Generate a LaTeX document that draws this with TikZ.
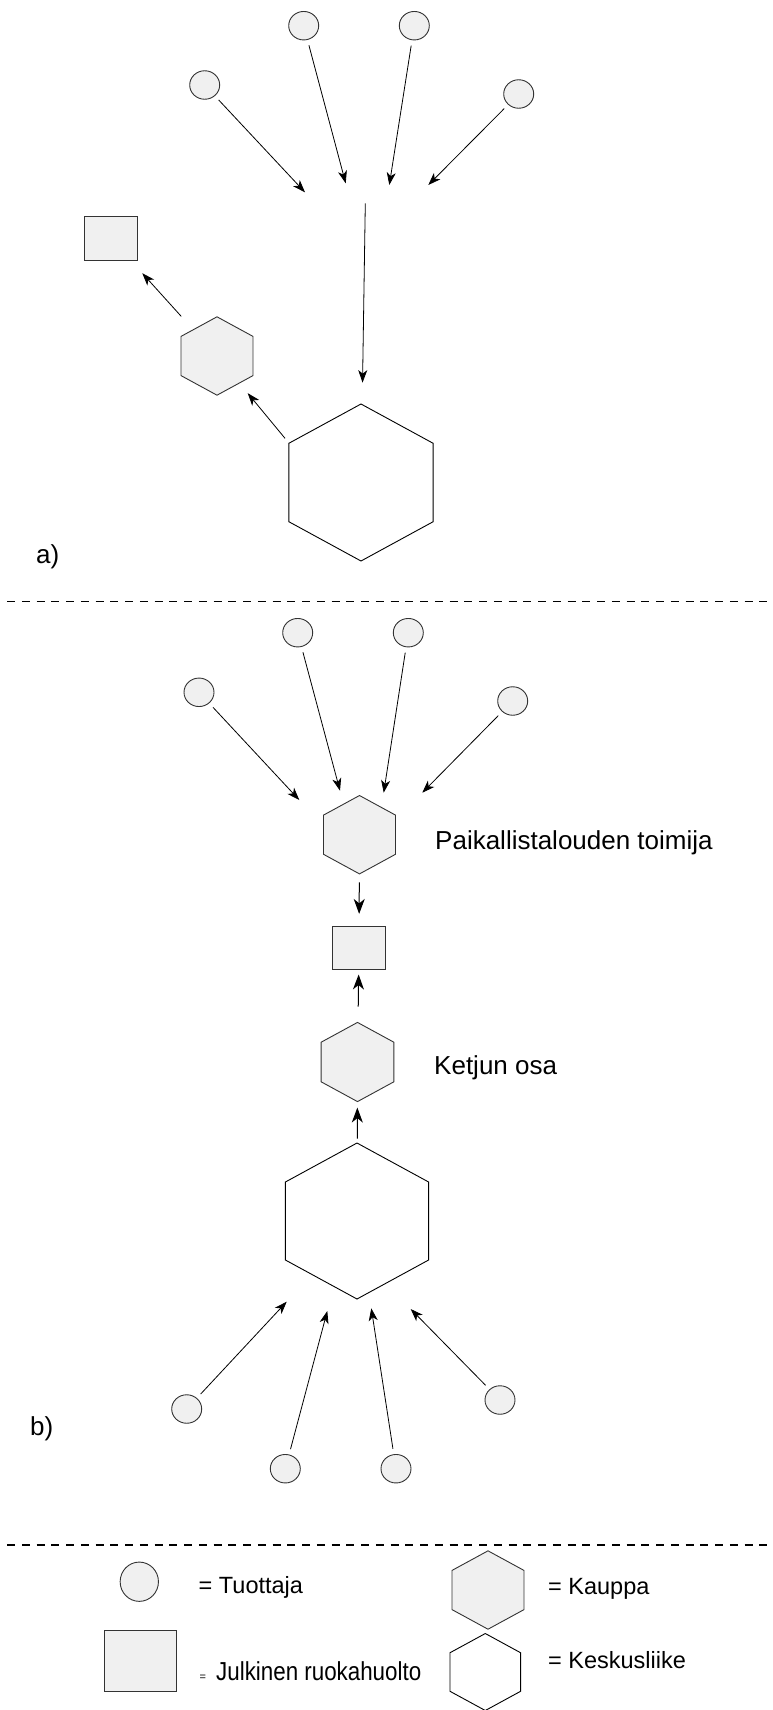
\documentclass[tikz,border=0pt]{standalone}
\usepackage{fontspec}
\setmainfont{Liberation Sans}
\usetikzlibrary{shapes.geometric, arrows.meta, calc}
\definecolor{shapefill}{HTML}{F0F0F0}
\definecolor{shapeline}{HTML}{333333}

\begin{document}
\begin{tikzpicture}[x=1pt, y=-1pt,
  producer/.style={ellipse, draw=shapeline, fill=shapefill, line width=0.9pt,
    inner sep=0pt, minimum width=30pt, minimum height=28.5pt},
  hexbase/.style={regular polygon, regular polygon sides=6, shape border rotate=90,
    inner sep=0pt, xscale=1.06, transform shape, line width=0.9pt},
  shop/.style={hexbase, draw=shapeline, fill=shapefill, minimum size=#1},
  shop/.default=78.4pt,
  centre/.style={hexbase, draw=black, fill=white, minimum size=#1},
  centre/.default=157pt,
  kitchen/.style={rectangle, draw=shapeline, fill=shapefill, line width=0.9pt,
    inner sep=0pt, minimum width=53.4pt, minimum height=43.3pt},
  flow/.style={-{Stealth[length=12.5pt,width=9pt,inset=3.5pt]}, line width=0.8pt},
  flowbig/.style={-{Stealth[length=15pt,width=11pt,inset=4.5pt]}, line width=1pt},
  nametext/.style={anchor=base west, inner sep=0pt, font=\fontsize{26}{31}\selectfont},
  keytext/.style={anchor=base west, inner sep=0pt, font=\fontsize{23.5}{28}\selectfont},
  divider/.style={dash pattern=on 8pt off 6.75pt, line width=1.5pt},
]
\useasboundingbox (0,0) rectangle (773,1710);

% ---------- a) ----------
\node[producer] (a1) at (204.7,85) {};
\node[producer] (a2) at (303.7,25.7) {};
\node[producer] (a3) at (414.3,25.7) {};
\node[producer] (a4) at (518.7,94) {};
\coordinate (hubA1) at (305,192.3);
\coordinate (hubA2) at (345.7,183.3);
\coordinate (hubA3) at (389.3,185);
\coordinate (hubA4) at (428.3,185);
\coordinate (hubA) at (365.3,203.3);

\node[centre] (bigA) at (361,482.5) {};
\node[shop] (kA) at (217,356) {};
\node[kitchen] (sqA) at (111,238.5) {};

\foreach \i in {1,...,4} \draw[flow, shorten <=5.5pt] (a\i) -- (hubA\i);
\draw[flow, shorten >=21.5pt] (hubA) -- (bigA);
\draw[flow, shorten >=12.7pt] ($(bigA.center)+(-76,-44.2)$) -- (kA);
\draw[flow, shorten <=17.5pt, shorten >=17pt] (kA) -- (sqA);

\node[nametext] (capA) at (36,563) {a)};

% ---------- divider ----------
\coordinate (cutL1) at (7,601.5);
\coordinate (cutR1) at (768,601.5);
\draw[divider] (cutL1) -- (cutR1);

% ---------- b) ----------
\node[producer] (b1) at (199,692.3) {};
\node[producer] (b2) at (297.7,632.7) {};
\node[producer] (b3) at (408.3,632.7) {};
\node[producer] (b4) at (512.7,701) {};
\coordinate (hubB1) at (299.3,800);
\coordinate (hubB2) at (340,790.7);
\coordinate (hubB3) at (383.7,792.7);
\coordinate (hubB4) at (422.3,792.7);

\node[shop] (hexP) at (359.5,834.7) {};
\node[nametext] (txtP) at (435,849) {Paikallistalouden toimija};
\node[kitchen] (sqB) at (359,947.7) {};
\node[shop=79.2pt] (kB) at (357.5,1062) {};
\node[nametext] (txtK) at (434,1074.6) {Ketjun osa};
\node[centre=156pt] (bigB) at (357,1221) {};

\foreach \i in {1,...,4} \draw[flow, shorten <=5.5pt] (b\i) -- (hubB\i);
\draw[flowbig, shorten <=8pt, shorten >=11.7pt] (hexP) -- (sqB);
\draw[flowbig, shorten <=15.6pt, shorten >=4.7pt] (kB) -- (sqB);
\draw[flowbig, shorten <=4pt, shorten >=5.5pt] (bigB) -- (kB);

\node[producer] (c1) at (186.7,1409) {};
\node[producer] (c2) at (285.3,1468.7) {};
\node[producer] (c3) at (396,1468.7) {};
\node[producer] (c4) at (500,1400) {};
\coordinate (hubC1) at (286.7,1301.7);
\coordinate (hubC2) at (327.3,1311);
\coordinate (hubC3) at (371.3,1308.3);
\coordinate (hubC4) at (410.7,1309);
\foreach \i in {1,...,4} \draw[flow, shorten <=5.5pt] (c\i) -- (hubC\i);

\node[nametext] (capB) at (30,1435) {b)};

% ---------- divider ----------
\coordinate (cutL2) at (7,1545);
\coordinate (cutR2) at (768,1545);
\draw[divider] (cutL2) -- (cutR2);

% ---------- key ----------
\node[producer, minimum width=38.3pt, minimum height=39.3pt] (keyP) at (139.3,1581.7) {};
\node[keytext] (keyPt) at (198.5,1593.3) {= Tuottaja};
\node[kitchen, minimum width=71.7pt, minimum height=61pt] (keyS) at (140.2,1661.2) {};
\node[anchor=base west, inner sep=0pt, font=\fontsize{11}{13}\selectfont] (keySe) at (199.3,1680) {=};
\node[anchor=base west, inner sep=0pt, font=\fontsize{26}{31}\selectfont, xscale=0.86, transform shape] (keySt) at (216,1680) {Julkinen ruokahuolto};
\node[shop] (keyK) at (488,1590) {};
\node[keytext] (keyKt) at (548,1594.3) {= Kauppa};
\node[centre=77pt] (keyC) at (485.3,1672) {};
\node[keytext] (keyCt) at (548,1668.3) {= Keskusliike};

\end{tikzpicture}
\end{document}
